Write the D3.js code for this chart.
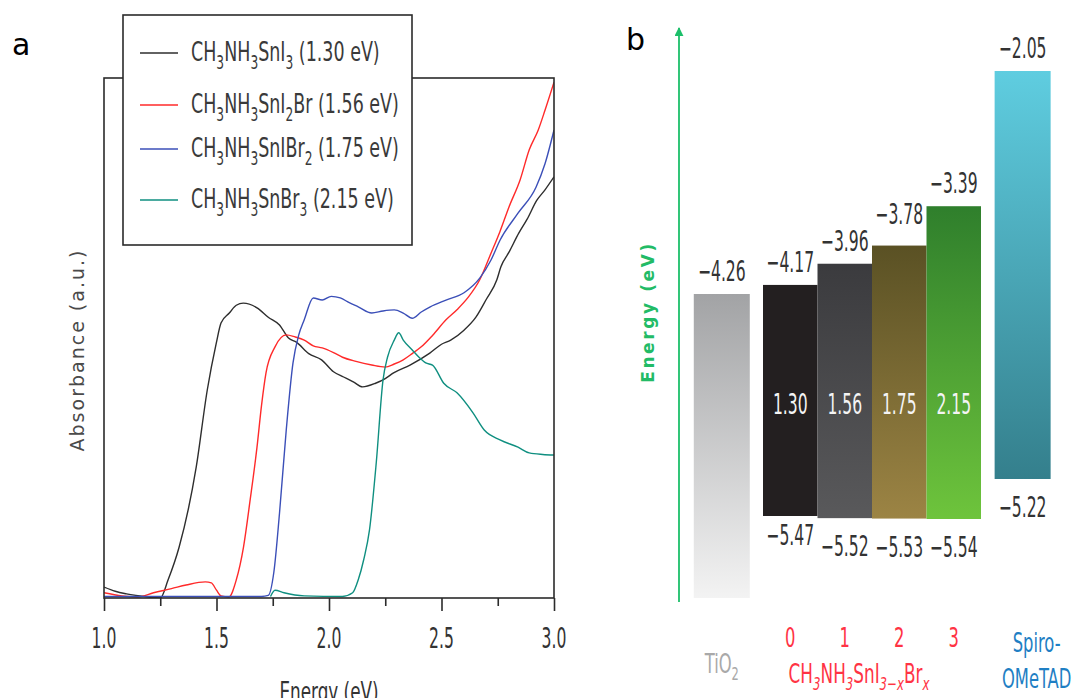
<!DOCTYPE html>
<html>
<head>
<meta charset="utf-8">
<script src="https://cdn.jsdelivr.net/npm/d3@7"></script>
<style>
  body { margin: 0; background: #fff; }
  svg { display: block; }
  .cond { font-family: "Liberation Sans Narrow", "Arial Narrow", "DejaVu Sans Condensed", sans-serif; }
  .wide { font-family: "DejaVu Sans", Verdana, sans-serif; }
</style>
</head>
<body>
<svg id="svg" width="1079" height="698"></svg>
<script>
// ---- data: panel a, absorbance spectra [energy eV, absorbance a.u.] ----
const majorTicks = [1.0, 1.5, 2.0, 2.5, 3.0];
const minorTicks = [1.25, 1.75, 2.25, 2.75];

const sniI3 = [
  [1.00, 2.1], [1.05, 1.3], [1.10, 0.8], [1.20, 0.2], [1.25, 0.0], [1.285, 3.5], [1.334, 9.8],
  [1.41, 25.2], [1.459, 40.0], [1.499, 49.0], [1.52, 52.9], [1.557, 54.8], [1.588, 56.3],
  [1.619, 56.7], [1.68, 55.8], [1.73, 54.0], [1.78, 52.5], [1.82, 50.0], [1.855, 49.2],
  [1.91, 47.0], [1.967, 45.8], [2.02, 43.5], [2.065, 42.5], [2.11, 41.5], [2.149, 40.6],
  [2.207, 41.3], [2.25, 42.2], [2.287, 43.3], [2.36, 44.8], [2.448, 47.1], [2.50, 48.8],
  [2.541, 49.6], [2.60, 51.5], [2.653, 54.0], [2.70, 57.5], [2.746, 61.2], [2.764, 63.7],
  [2.80, 66.5], [2.844, 70.2], [2.88, 72.8], [2.924, 76.5], [2.96, 78.5], [3.00, 81.0]
];
const sniI2Br = [
  [1.00, 1.0], [1.08, 0.4], [1.15, 0.2], [1.22, 1.0], [1.30, 1.8], [1.365, 2.5], [1.45, 3.1],
  [1.477, 2.9], [1.50, 1.5], [1.52, 0.4], [1.555, 0.2], [1.588, 3.5], [1.62, 9.8], [1.65, 19.0],
  [1.68, 29.0], [1.70, 37.0], [1.72, 43.3], [1.76, 48.3], [1.81, 50.6], [1.85, 50.2],
  [1.89, 49.6], [1.93, 48.5], [1.97, 48.1], [2.02, 47.2], [2.06, 46.3], [2.12, 45.5],
  [2.19, 44.8], [2.25, 44.4], [2.29, 45.0], [2.33, 45.8], [2.37, 47.0], [2.41, 48.3],
  [2.46, 50.5], [2.52, 53.5], [2.57, 55.5], [2.62, 57.9], [2.67, 61.2], [2.72, 66.3],
  [2.76, 70.5], [2.80, 75.2], [2.85, 80.5], [2.89, 86.2], [2.93, 90.0], [2.96, 93.8], [3.00, 99.2]
];
const sniIBr2 = [
  [1.00, 0.3], [1.40, 0.3], [1.70, 0.3], [1.73, 0.5], [1.755, 5.0], [1.78, 16.3], [1.81, 32.3],
  [1.84, 45.2], [1.865, 50.5], [1.89, 53.5], [1.93, 57.7], [1.97, 57.3], [2.01, 58.0],
  [2.05, 57.7], [2.09, 56.8], [2.13, 56.0], [2.19, 54.8], [2.24, 55.2], [2.29, 55.4],
  [2.33, 54.8], [2.37, 53.8], [2.41, 55.0], [2.45, 56.0], [2.52, 57.3], [2.60, 58.7],
  [2.67, 61.5], [2.72, 65.0], [2.76, 68.8], [2.84, 74.0], [2.92, 79.0], [2.96, 83.5], [3.00, 90.0]
];
const snBr3 = [
  [1.74, 0.3], [1.76, 1.5], [1.80, 1.0], [1.89, 0.4], [2.06, 0.3], [2.105, 1.0], [2.13, 3.5],
  [2.155, 7.5], [2.18, 13.1], [2.21, 26.0], [2.24, 41.9], [2.26, 46.3], [2.29, 49.6],
  [2.31, 51.0], [2.33, 49.6], [2.37, 47.7], [2.40, 46.3], [2.43, 45.2], [2.46, 44.8],
  [2.51, 41.3], [2.57, 39.4], [2.64, 35.6], [2.69, 32.3], [2.76, 30.4], [2.84, 29.0],
  [2.89, 27.9], [2.95, 27.6], [3.00, 27.5]
];

const seriesLabels = [
  "CH_3NH_3SnI_3 (1.30 eV)",
  "CH_3NH_3SnI_2Br (1.56 eV)",
  "CH_3NH_3SnIBr_2 (1.75 eV)",
  "CH_3NH_3SnBr_3 (2.15 eV)"
];
const seriesData = [sniI3, sniI2Br, sniIBr2, snBr3];
const seriesColors = ["#2e2e2e", "#ff2a2a", "#3b4fb8", "#0f8f80"];

// ---- data: panel b, energy levels (eV) ----
const levelCats = ["TiO2", "0", "1", "2", "3", "Spiro"];
const cbEnergy = [-4.26, -4.17, -3.96, -3.78, -3.39, -2.05];
const vbEnergy = [null, -5.47, -5.52, -5.53, -5.54, -5.22];
const bandGaps = [null, "1.30", "1.56", "1.75", "2.15", null];

// ---- helpers ----
// text with "_" subscripts
function richText(sel, str, size, italicSub) {
  const parts = str.split(/(_[0-9x\u2212\-]+)/).filter(p => p);
  const shift = size * 0.28;
  let lowered = false;
  parts.forEach(p => {
    if (p[0] === "_") {
      sel.append("tspan").attr("dy", lowered ? 0 : shift).attr("font-size", size * 0.7)
        .attr("font-style", italicSub ? "italic" : null).text(p.slice(1));
      lowered = true;
    } else {
      sel.append("tspan").attr("dy", lowered ? -shift : 0).attr("font-size", size).text(p);
      lowered = false;
    }
  });
  return sel;
}

function label(g, x, y, str, opt) {
  opt = opt || {};
  const size = opt.size || 22;
  const t = g.append("text")
    .attr("class", opt.cls || "cond")
    .attr("transform", `translate(${x},${y}) scale(${opt.sx || 0.86},1)`)
    .attr("text-anchor", opt.anchor || "middle")
    .attr("font-size", size)
    .attr("fill", opt.fill || "#333");
  richText(t, str, size, opt.italicSub);
  return t;
}

const svg = d3.select("#svg");

// =================== panel a ===================
const ax = { left: 104, right: 554, top: 78, bottom: 598 };
const x = d3.scaleLinear().domain([1.0, 3.0]).range([ax.left, ax.right]);
const y = d3.scaleLinear().domain([0, 100]).range([ax.bottom, ax.top]);

const ga = svg.append("g");

ga.append("text").attr("x", 12).attr("y", 55)
  .attr("font-family", "DejaVu Sans, sans-serif").attr("font-size", 30).text("a");

const line = d3.line().x(d => x(d[0])).y(d => y(d[1])).curve(d3.curveMonotoneX);

ga.append("defs").append("clipPath").attr("id", "clipA")
  .append("rect").attr("x", ax.left).attr("y", ax.top)
  .attr("width", ax.right - ax.left).attr("height", ax.bottom - ax.top);

ga.selectAll("path.spec")
  .data(seriesData)
  .enter()
  .append("path")
  .attr("class", "spec")
  .attr("clip-path", "url(#clipA)")
  .attr("d", line)
  .attr("fill", "none")
  .attr("stroke", (d, i) => seriesColors[i])
  .attr("stroke-width", 1.4);

// frame
ga.append("rect")
  .attr("x", ax.left).attr("y", ax.top)
  .attr("width", ax.right - ax.left).attr("height", ax.bottom - ax.top)
  .attr("fill", "none").attr("stroke", "#2b2b2b").attr("stroke-width", 1.6);

// x axis ticks
const xAxis = d3.axisBottom(x).tickValues(majorTicks).tickSize(13).tickFormat("");
ga.append("g").attr("transform", `translate(0,${ax.bottom})`).call(xAxis)
  .call(g => g.select(".domain").remove())
  .call(g => g.selectAll("line").attr("stroke", "#2b2b2b").attr("stroke-width", 1.6));
ga.append("g").attr("transform", `translate(0,${ax.bottom})`)
  .call(d3.axisBottom(x).tickValues(minorTicks).tickSize(8).tickFormat(""))
  .call(g => g.select(".domain").remove())
  .call(g => g.selectAll("line").attr("stroke", "#2b2b2b").attr("stroke-width", 1.6));

majorTicks.forEach(v => label(ga, x(v), 648, d3.format(".1f")(v), { size: 28, sx: 0.62 }));

label(ga, 329, 701, "Energy (eV)", { size: 26, sx: 0.72 });

ga.append("text")
  .attr("class", "wide")
  .attr("transform", `translate(84,350) rotate(-90)`)
  .attr("text-anchor", "middle")
  .attr("font-size", 19)
  .attr("letter-spacing", 2)
  .attr("fill", "#4a4a4a")
  .text("Absorbance (a.u.)");

// legend
const lg = ga.append("g");
lg.append("rect").attr("x", 123).attr("y", 15).attr("width", 289).attr("height", 230)
  .attr("fill", "#fff").attr("stroke", "#2b2b2b").attr("stroke-width", 1.6);
const legendY = [53, 105, 149, 200];
seriesLabels.forEach((s, i) => {
  lg.append("line").attr("x1", 140).attr("x2", 178)
    .attr("y1", legendY[i]).attr("y2", legendY[i])
    .attr("stroke", seriesColors[i]).attr("stroke-width", 1.6);
  label(lg, 191, legendY[i] + 8, s, { size: 27, sx: 0.72, anchor: "start", fill: "#3a3a3a" });
});

// =================== panel b ===================
const gb = svg.append("g");
gb.append("text").attr("x", 626).attr("y", 50)
  .attr("font-family", "DejaVu Sans, sans-serif").attr("font-size", 30).text("b");

// schematic (non-linear) energy scale
const yE = d3.scaleLinear()
  .domain([-5.54, -5.47, -5.22, -4.26, -2.05])
  .range([519, 516, 479, 294, 71]);
const bBottom = 598;

// column slots
const slot = d3.scaleLinear().domain([0, 1]).range([763, 817.5]);
const slotPos = [-1.27, 0, 1, 2, 3, 4.25];
const colW = 56;

const grads = [
  ["#a2a3a5", "#f3f3f3"],
  ["#231f20", "#231f20"],
  ["#3b3b3e", "#59595b"],
  ["#5a5124", "#9c8444"],
  ["#2f7f2c", "#6ec43c"],
  ["#5fcde0", "#347f8c"]
];
const defs = gb.append("defs");
grads.forEach((c, i) => {
  const lgd = defs.append("linearGradient").attr("id", "bg" + i)
    .attr("x1", 0).attr("y1", 0).attr("x2", 0).attr("y2", 1);
  lgd.append("stop").attr("offset", "0%").attr("stop-color", c[0]);
  lgd.append("stop").attr("offset", "100%").attr("stop-color", c[1]);
});

// energy arrow
defs.append("marker").attr("id", "arrowG")
  .attr("viewBox", "0 -5 10 10").attr("refX", 9).attr("refY", 0)
  .attr("markerWidth", 5).attr("markerHeight", 5).attr("orient", "auto")
  .append("path").attr("d", "M0,-5L10,0L0,5Z").attr("fill", "#1cbf6a");
gb.append("line").attr("x1", 679).attr("x2", 679).attr("y1", 602).attr("y2", 28)
  .attr("stroke", "#1cbf6a").attr("stroke-width", 1.8).attr("marker-end", "url(#arrowG)");

gb.append("text")
  .attr("class", "wide")
  .attr("transform", `translate(654,312) rotate(-90)`)
  .attr("text-anchor", "middle")
  .attr("font-size", 17)
  .attr("font-weight", "bold")
  .attr("letter-spacing", 2.6)
  .attr("fill", "#22bb66")
  .text("Energy (eV)");

// bars
gb.selectAll("rect.level")
  .data(levelCats)
  .enter()
  .append("rect")
  .attr("class", "level")
  .attr("x", (d, i) => slot(slotPos[i]))
  .attr("width", (d, i) => (i >= 1 && i <= 4) ? slot(1) - slot(0) : colW)
  .attr("y", (d, i) => yE(cbEnergy[i]))
  .attr("height", (d, i) => (vbEnergy[i] === null ? bBottom : yE(vbEnergy[i])) - yE(cbEnergy[i]))
  .attr("fill", (d, i) => `url(#bg${i})`);

const colCenter = i => slot(slotPos[i]) + ((i >= 1 && i <= 4) ? (slot(1) - slot(0)) : colW) / 2;
const fmt = v => (v < 0 ? "\u2212" : "") + Math.abs(v).toFixed(2);

levelCats.forEach((c, i) => {
  label(gb, colCenter(i), yE(cbEnergy[i]) - (i === 3 ? 22 : 13), fmt(cbEnergy[i]), { size: 28, sx: 0.62 });
  if (vbEnergy[i] !== null)
    label(gb, colCenter(i), yE(vbEnergy[i]) + (i === 1 ? 29 : 38), fmt(vbEnergy[i]), { size: 28, sx: 0.62 });
  if (bandGaps[i])
    label(gb, colCenter(i), 414, bandGaps[i], { size: 28, sx: 0.62, fill: "#f4f4f4" });
});

// category labels
label(gb, colCenter(0), 673, "TiO_2", { size: 26, sx: 0.7, fill: "#a9a9a9" });
[1, 2, 3, 4].forEach(i => label(gb, colCenter(i), 647, levelCats[i], { size: 26, sx: 0.7, fill: "#ff3344" }));
label(gb, 859, 683, "CH_3NH_3SnI_3\u2212_xBr_x", { size: 26, sx: 0.72, fill: "#ff3344", italicSub: true });
label(gb, colCenter(5) + 14, 652, "Spiro-", { size: 26, sx: 0.7, fill: "#1f7fc4" });
label(gb, colCenter(5) + 14, 688, "OMeTAD", { size: 26, sx: 0.7, fill: "#1f7fc4" });
</script>
</body>
</html>
